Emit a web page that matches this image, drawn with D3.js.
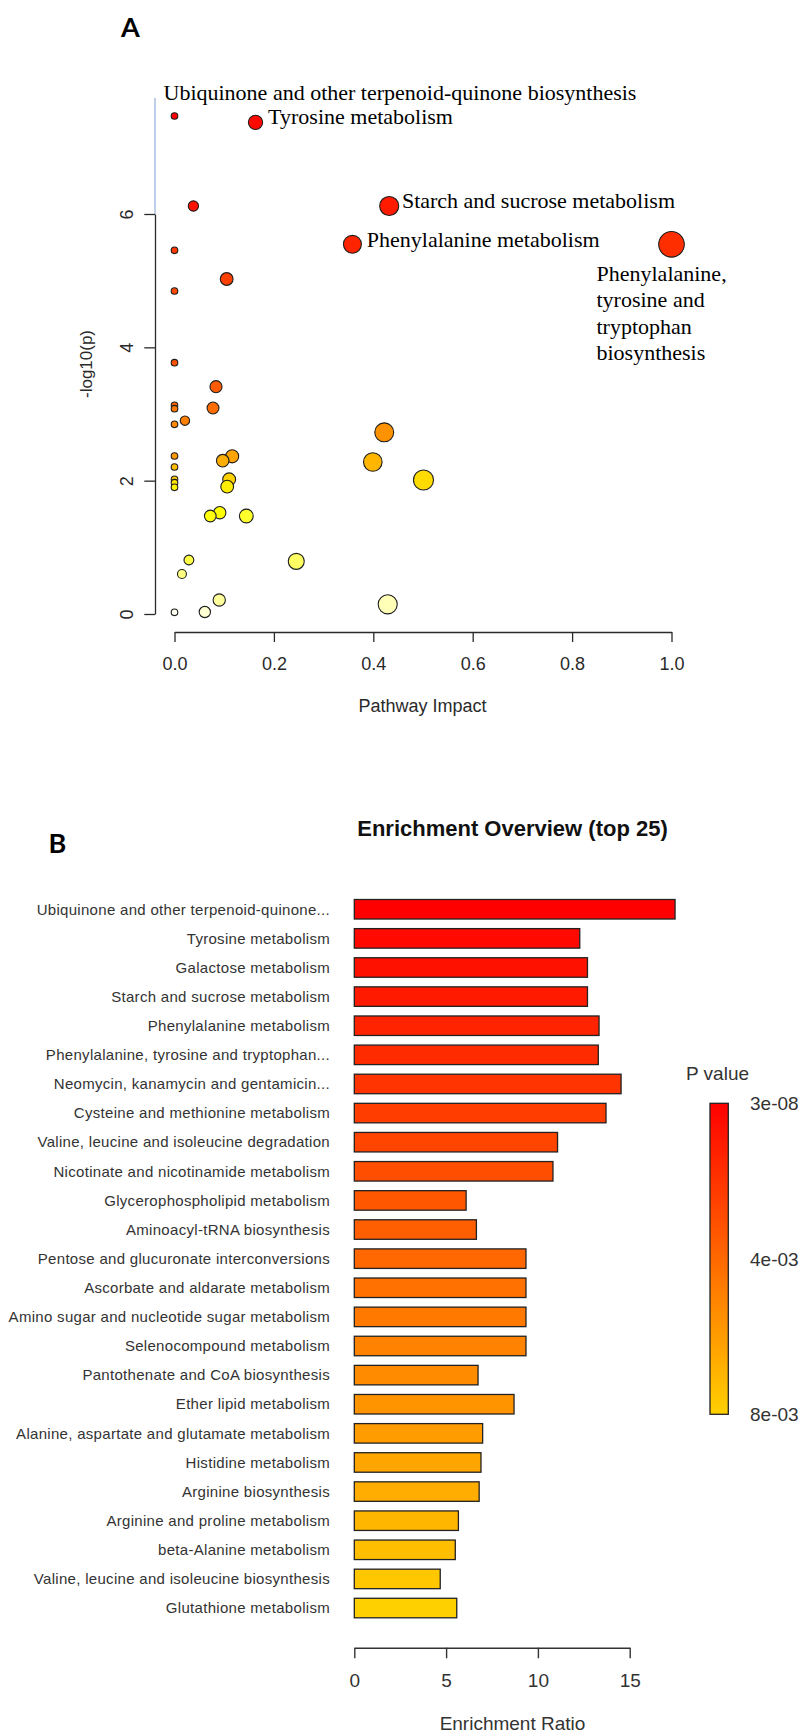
<!DOCTYPE html>
<html><head><meta charset="utf-8">
<script src="https://cdn.jsdelivr.net/npm/d3@7"></script>
<style>body{margin:0;background:#fff} svg{display:block}</style>
</head><body>
<svg id="c" width="802" height="1733"></svg>
<script>
// ---------- Panel A data (pathway impact vs -log10(p)) ----------
const impact = [0, 0.163, 0.038, 0.432, 0.358, 1.0, 0, 0.105, 0, 0,
  0.0835, 0, 0, 0.0775, 0.021, 0, 0.422, 0, 0.116, 0.097,
  0.399, 0, 0, 0, 0, 0.110, 0.106, 0.501, 0.091, 0.072,
  0.1445, 0.029, 0.245, 0.015, 0.090, 0.429, 0, 0.061];
const negLogP = [7.47, 7.375, 6.12, 6.12, 5.545, 5.545, 5.455, 5.025, 4.845, 3.77,
  3.41, 3.13, 3.08, 3.09, 2.90, 2.845, 2.725, 2.37, 2.365, 2.30,
  2.28, 2.205, 2.02, 1.97, 1.90, 2.02, 1.91, 2.01, 1.52, 1.47,
  1.47, 0.81, 0.79, 0.60, 0.21, 0.145, 0.025, 0.03];
const pointNames = ["Ubiquinone and other terpenoid-quinone biosynthesis", "Tyrosine metabolism", null,
  "Starch and sucrose metabolism", "Phenylalanine metabolism",
  "Phenylalanine, tyrosine and tryptophan biosynthesis"];
const ticksAx = [0, 0.2, 0.4, 0.6, 0.8, 1.0];
const ticksAy = [0, 2, 4, 6];

// ---------- Panel B data (enrichment overview) ----------
const pathwaysB = ["Ubiquinone and other terpenoid-quinone...", "Tyrosine metabolism", "Galactose metabolism",
  "Starch and sucrose metabolism", "Phenylalanine metabolism", "Phenylalanine, tyrosine and tryptophan...",
  "Neomycin, kanamycin and gentamicin...", "Cysteine and methionine metabolism",
  "Valine, leucine and isoleucine degradation", "Nicotinate and nicotinamide metabolism",
  "Glycerophospholipid metabolism", "Aminoacyl-tRNA biosynthesis", "Pentose and glucuronate interconversions",
  "Ascorbate and aldarate metabolism", "Amino sugar and nucleotide sugar metabolism", "Selenocompound metabolism",
  "Pantothenate and CoA biosynthesis", "Ether lipid metabolism", "Alanine, aspartate and glutamate metabolism",
  "Histidine metabolism", "Arginine biosynthesis", "Arginine and proline metabolism", "beta-Alanine metabolism",
  "Valine, leucine and isoleucine biosynthesis", "Glutathione metabolism"];
const enrichmentRatio = [17.47, 12.28, 12.70, 12.70, 13.33, 13.29, 14.53, 13.71, 11.07, 10.82,
  6.09, 6.65, 9.35, 9.35, 9.35, 9.35, 6.74, 8.70, 6.99, 6.90, 6.80, 5.67, 5.50, 4.68, 5.58];
const pValuesB = [3.4e-8, 4.2e-8, 7.6e-7, 7.7e-7, 2.8e-6, 2.9e-6, 3.5e-6, 9.4e-6, 1.4e-5, 1.7e-4,
  3.9e-4, 7.4e-4, 8.1e-4, 8.3e-4, 1.26e-3, 1.43e-3, 1.9e-3, 4.3e-3, 4.4e-3, 5.0e-3,
  5.2e-3, 6.2e-3, 7.5e-3, 7.8e-3, 8.0e-3];
const ticksB = [0, 5, 10, 15];
const legendLabels = ["3e-08", "4e-03", "8e-03"];

// ---------- layout / style ----------
const labelLayout = {
  "Ubiquinone and other terpenoid-quinone biosynthesis": {dx: -11, dy: -16.4, lines: null},
  "Tyrosine metabolism": {dx: 12.6, dy: 1.7, lines: null},
  "Starch and sucrose metabolism": {dx: 12.7, dy: 1.7, lines: null},
  "Phenylalanine metabolism": {dx: 14.4, dy: 3, lines: null},
  "Phenylalanine, tyrosine and tryptophan biosynthesis": {dx: -75, dy: 36.7, lineH: 26.3,
     lines: ["Phenylalanine,", "tyrosine and", "tryptophan", "biosynthesis"]}
};
const sans = "'Liberation Sans', Arial, sans-serif";
const serif = "'Liberation Serif', 'Times New Roman', serif";
const ink = "#2a2a2a";

const svg = d3.select("#c");

// panel letters
svg.append("text").attr("x", 121).attr("y", 36.7).text("A")
  .attr("font-family", "Lato, 'Open Sans', sans-serif").attr("font-weight", 700).attr("font-size", 27).attr("fill", "#000");
svg.append("text").attr("x", 48.6).attr("y", 853).text("B")
  .attr("font-family", "Lato, 'Open Sans', sans-serif").attr("font-weight", 700).attr("font-size", 27).attr("fill", "#000");

// ===== Panel A =====
const xA = d3.scaleLinear().domain([0, 1]).range([174.5, 671.5]);
const yA = d3.scaleLinear().domain([0, 6]).range([614, 214]);
const rA = d3.scalePow().exponent(0.5).domain([0, 1]).range([3.3, 12.8]);
const yTopA = 7.74;

// R heat.colors(n)
function heatColors(n) {
  const j = Math.floor(n / 4), i = n - j, out = [];
  for (let k = 0; k < i; k++) {
    const h = i > 1 ? (k / (i - 1)) / 6 : 0;
    out.push(d3.rgb(255, Math.round(h * 6 * 255), 0).formatHex());
  }
  for (let k = 0; k < j; k++) {
    const s = j > 1 ? (1 - 1 / (2 * j)) - k * ((1 - 1 / j) / (j - 1)) : 0.5;
    out.push(d3.rgb(255, 255, Math.round((1 - s) * 255)).formatHex());
  }
  return out;
}
const heat = heatColors(negLogP.length);
const orderA = d3.range(negLogP.length).sort((a, b) => negLogP[b] - negLogP[a]);
const colA = new Array(negLogP.length);
orderA.forEach((idx, k) => colA[idx] = heat[k]);

// blue segment of the y axis above the last tick
svg.append("line").attr("x1", 155).attr("x2", 155).attr("y1", yA(6)).attr("y2", yA(yTopA))
  .attr("stroke", "#7d9fd3").attr("stroke-width", 1);

// y axis
const gyA = svg.append("g").attr("transform", "translate(155,0)")
  .call(d3.axisLeft(yA).tickValues(ticksAy).tickFormat(d3.format("d")).tickSize(10.7).tickSizeOuter(0));
gyA.select(".domain").attr("stroke", ink).attr("stroke-width", 1.3);
gyA.selectAll(".tick line").attr("stroke", ink).attr("stroke-width", 1.3);
gyA.selectAll(".tick text").attr("x", null).attr("dy", null)
  .attr("transform", "translate(-21.7,0) rotate(-90)").attr("text-anchor", "middle")
  .attr("font-family", sans).attr("font-size", 18).attr("fill", ink);

// x axis
const gxA = svg.append("g").attr("transform", "translate(0,632)")
  .call(d3.axisBottom(xA).tickValues(ticksAx).tickFormat(d3.format(".1f")).tickSize(10).tickSizeOuter(0).tickPadding(15.2));
gxA.select(".domain").attr("stroke", ink).attr("stroke-width", 1.3);
gxA.selectAll(".tick line").attr("stroke", ink).attr("stroke-width", 1.3);
gxA.selectAll(".tick text").attr("font-family", sans).attr("font-size", 18).attr("fill", ink);

svg.append("text").attr("x", 422.5).attr("y", 711.5).attr("text-anchor", "middle")
  .attr("font-family", sans).attr("font-size", 18).attr("fill", ink).text("Pathway Impact");
svg.append("text").attr("transform", "translate(92,364) rotate(-90)").attr("text-anchor", "middle")
  .attr("font-family", sans).attr("font-size", 17).attr("fill", ink).text("-log10(p)");

// points
svg.append("g").selectAll("circle").data(d3.range(impact.length)).join("circle")
  .attr("cx", i => xA(impact[i])).attr("cy", i => yA(negLogP[i])).attr("r", i => rA(impact[i]))
  .attr("fill", i => colA[i]).attr("stroke", "#1e1e1e").attr("stroke-width", 1.1);

// labels
pointNames.forEach((name, i) => {
  if (!name || !labelLayout[name]) return;
  const L = labelLayout[name];
  const t = svg.append("text").attr("font-family", serif).attr("font-size", 22).attr("fill", "#000");
  const x0 = xA(impact[i]) + L.dx, y0 = yA(negLogP[i]) + L.dy;
  const lines = L.lines || [name];
  lines.forEach((ln, k) => t.append("tspan").attr("x", x0).attr("y", y0 + k * (L.lineH || 0)).text(ln));
});

// ===== Panel B =====
svg.append("text").attr("x", 512.5).attr("y", 836).attr("text-anchor", "middle")
  .attr("font-family", sans).attr("font-weight", 700).attr("font-size", 22).attr("fill", "#111")
  .text("Enrichment Overview (top 25)");

const xB = d3.scaleLinear().domain([0, 15]).range([354.3, 629.7]);
const yB = d3.scaleBand().domain(pathwaysB).range([894.7, 1622.6]).paddingInner(0.33).paddingOuter(0.165);

const rampB = d3.interpolateRgb("#ff0000", "#ffd000");
const orderB = d3.range(pValuesB.length).sort((a, b) => pValuesB[a] - pValuesB[b]);
const colB = new Array(pValuesB.length);
orderB.forEach((idx, k) => colB[idx] = rampB(k / (pValuesB.length - 1)));

svg.append("g").selectAll("rect").data(d3.range(pathwaysB.length)).join("rect")
  .attr("x", xB(0)).attr("y", i => yB(pathwaysB[i]))
  .attr("width", i => xB(enrichmentRatio[i]) - xB(0)).attr("height", yB.bandwidth())
  .attr("fill", i => colB[i]).attr("stroke", "#222").attr("stroke-width", 1.3);

svg.append("g").selectAll("text").data(pathwaysB).join("text")
  .attr("x", 330).attr("y", d => yB(d) + yB.bandwidth() / 2).attr("dy", "0.35em")
  .attr("text-anchor", "end").attr("font-family", sans).attr("font-size", 15)
  .attr("letter-spacing", 0.3).attr("fill", "#333").text(d => d);

const gxB = svg.append("g").attr("transform", "translate(0,1647.7)")
  .call(d3.axisBottom(xB).tickValues(ticksB).tickFormat(d3.format("d")).tickSize(10.6).tickSizeOuter(0).tickPadding(15.5));
gxB.select(".domain").attr("stroke", "#333").attr("stroke-width", 1.4);
gxB.selectAll(".tick line").attr("stroke", "#333").attr("stroke-width", 1.4);
gxB.selectAll(".tick text").attr("font-family", sans).attr("font-size", 19).attr("fill", "#333");

svg.append("text").attr("x", 512.5).attr("y", 1730).attr("text-anchor", "middle")
  .attr("font-family", sans).attr("font-size", 19).attr("fill", "#333").text("Enrichment Ratio");

// legend
const defs = svg.append("defs");
const grad = defs.append("linearGradient").attr("id", "pg").attr("x1", 0).attr("x2", 0).attr("y1", 0).attr("y2", 1);
d3.range(11).forEach(k => grad.append("stop").attr("offset", k / 10).attr("stop-color", rampB(k / 10)));
const legY = d3.scaleLinear().domain([0, legendLabels.length - 1]).range([1103.3, 1414.3]);
svg.append("rect").attr("x", 710).attr("y", legY(0)).attr("width", 18.3).attr("height", legY(2) - legY(0))
  .attr("fill", "url(#pg)").attr("stroke", "#222").attr("stroke-width", 1.3);
svg.append("text").attr("x", 686).attr("y", 1080).attr("font-family", sans).attr("font-size", 19)
  .attr("fill", "#333").text("P value");
svg.append("g").selectAll("text").data(legendLabels).join("text")
  .attr("x", 750).attr("y", (d, i) => legY(i)).attr("dy", "0.36em")
  .attr("font-family", sans).attr("font-size", 19).attr("fill", "#333").text(d => d);
</script>
</body></html>
